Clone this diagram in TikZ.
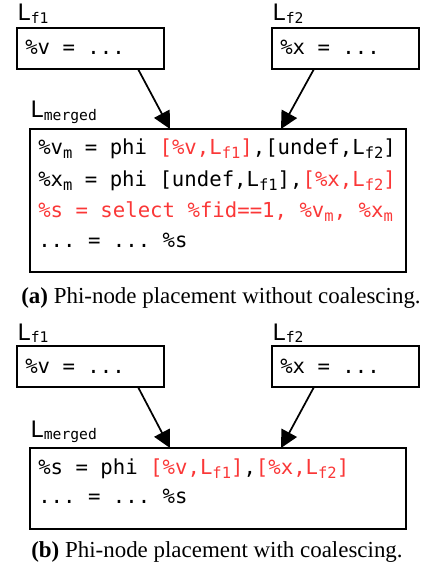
\documentclass[tikz,border=0pt]{standalone}
\usepackage{fontspec}
\setmonofont{DejaVu Sans Mono}
\newfontfamily\capfont{Liberation Serif}
\usetikzlibrary{arrows.meta,calc}
\definecolor{hl}{RGB}{250,55,55}
\newcommand\codefont{\ttfamily\fontsize{15.5}{18}\selectfont}
\newcommand\sbs[1]{\raisebox{-3pt}{\fontsize{11.6}{12}\selectfont #1}}
\newcommand\lbl[1]{{\ttfamily\fontsize{17}{18}\selectfont L\raisebox{-2pt}{\fontsize{11}{12}\selectfont #1}}}
\begin{document}
\begin{tikzpicture}[x=0.75pt,y=-0.75pt,
  box/.style={draw,line width=1.6pt,rectangle,inner sep=0,outer sep=0,anchor=north west},
  code/.style={anchor=base west,inner sep=0,font=\codefont},
  lab/.style={anchor=base west,inner sep=0},
  captext/.style={anchor=base,inner sep=0,font=\capfont\fontsize{17.2}{20}\selectfont},
  arr/.style={line width=1.3pt,-{Triangle[length=13pt,width=13pt]}}]
\useasboundingbox (0,0) rectangle (428,577);
% ---------- (a)
\node[lab] (la1) at (17,21) {\lbl{f1}};
\node[lab] (la2) at (272,21) {\lbl{f2}};
\node[box,minimum width=110.25pt,minimum height=30.75pt] (fa1) at (17,28) {};
\node[box,minimum width=110.25pt,minimum height=30.75pt] (fa2) at (272,28) {};
\node[code] (ta1) at (25,55) {\%v = ...};
\node[code] (ta2) at (280,55) {\%x = ...};
\node[lab] (lma) at (30,118) {\lbl{merged}};
\node[box,minimum width=282pt,minimum height=107.25pt] (ma) at (30,129) {};
\node[code] (a1) at (38,155) {\%v\sbs{m} = phi \textcolor{hl}{[\%v,L\sbs{f1}]},[undef,L\sbs{f2}]};
\node[code] (a2) at (38,186) {\%x\sbs{m} = phi [undef,L\sbs{f1}],\textcolor{hl}{[\%x,L\sbs{f2}]}};
\node[code,text=hl] (a3) at (38,217) {\%s = select \%fid==1, \%v\sbs{m}, \%x\sbs{m}};
\node[code] (a4) at (38,247) {... = ... \%s};
\draw[arr] ([xshift=-19.5pt]fa1.south east) -- ([xshift=105pt]ma.north west);
\draw[arr] ([xshift=31.5pt]fa2.south west) -- ([xshift=188.25pt]ma.north west);
\node[captext] (capa) at (221,303) {\textbf{(a)} Phi-node placement without coalescing.};
% ---------- (b)
\node[lab] (lb1) at (17,340) {\lbl{f1}};
\node[lab] (lb2) at (272,340) {\lbl{f2}};
\node[box,minimum width=110.25pt,minimum height=30.75pt] (fb1) at (17,346) {};
\node[box,minimum width=110.25pt,minimum height=30.75pt] (fb2) at (272,346) {};
\node[code] (tb1) at (25,373) {\%v = ...};
\node[code] (tb2) at (280,373) {\%x = ...};
\node[lab] (lmb) at (30,437) {\lbl{merged}};
\node[box,minimum width=282pt,minimum height=60.75pt] (mb) at (30,448) {};
\node[code] (b1) at (38,474) {\%s = phi \textcolor{hl}{[\%v,L\sbs{f1}]},\textcolor{hl}{[\%x,L\sbs{f2}]}};
\node[code] (b2) at (38,503) {... = ... \%s};
\draw[arr] ([xshift=-19.5pt]fb1.south east) -- ([xshift=105pt]mb.north west);
\draw[arr] ([xshift=31.5pt]fb2.south west) -- ([xshift=188.25pt]mb.north west);
\node[captext] (capb) at (217,557) {\textbf{(b)} Phi-node placement with coalescing.};
\end{tikzpicture}
\end{document}
